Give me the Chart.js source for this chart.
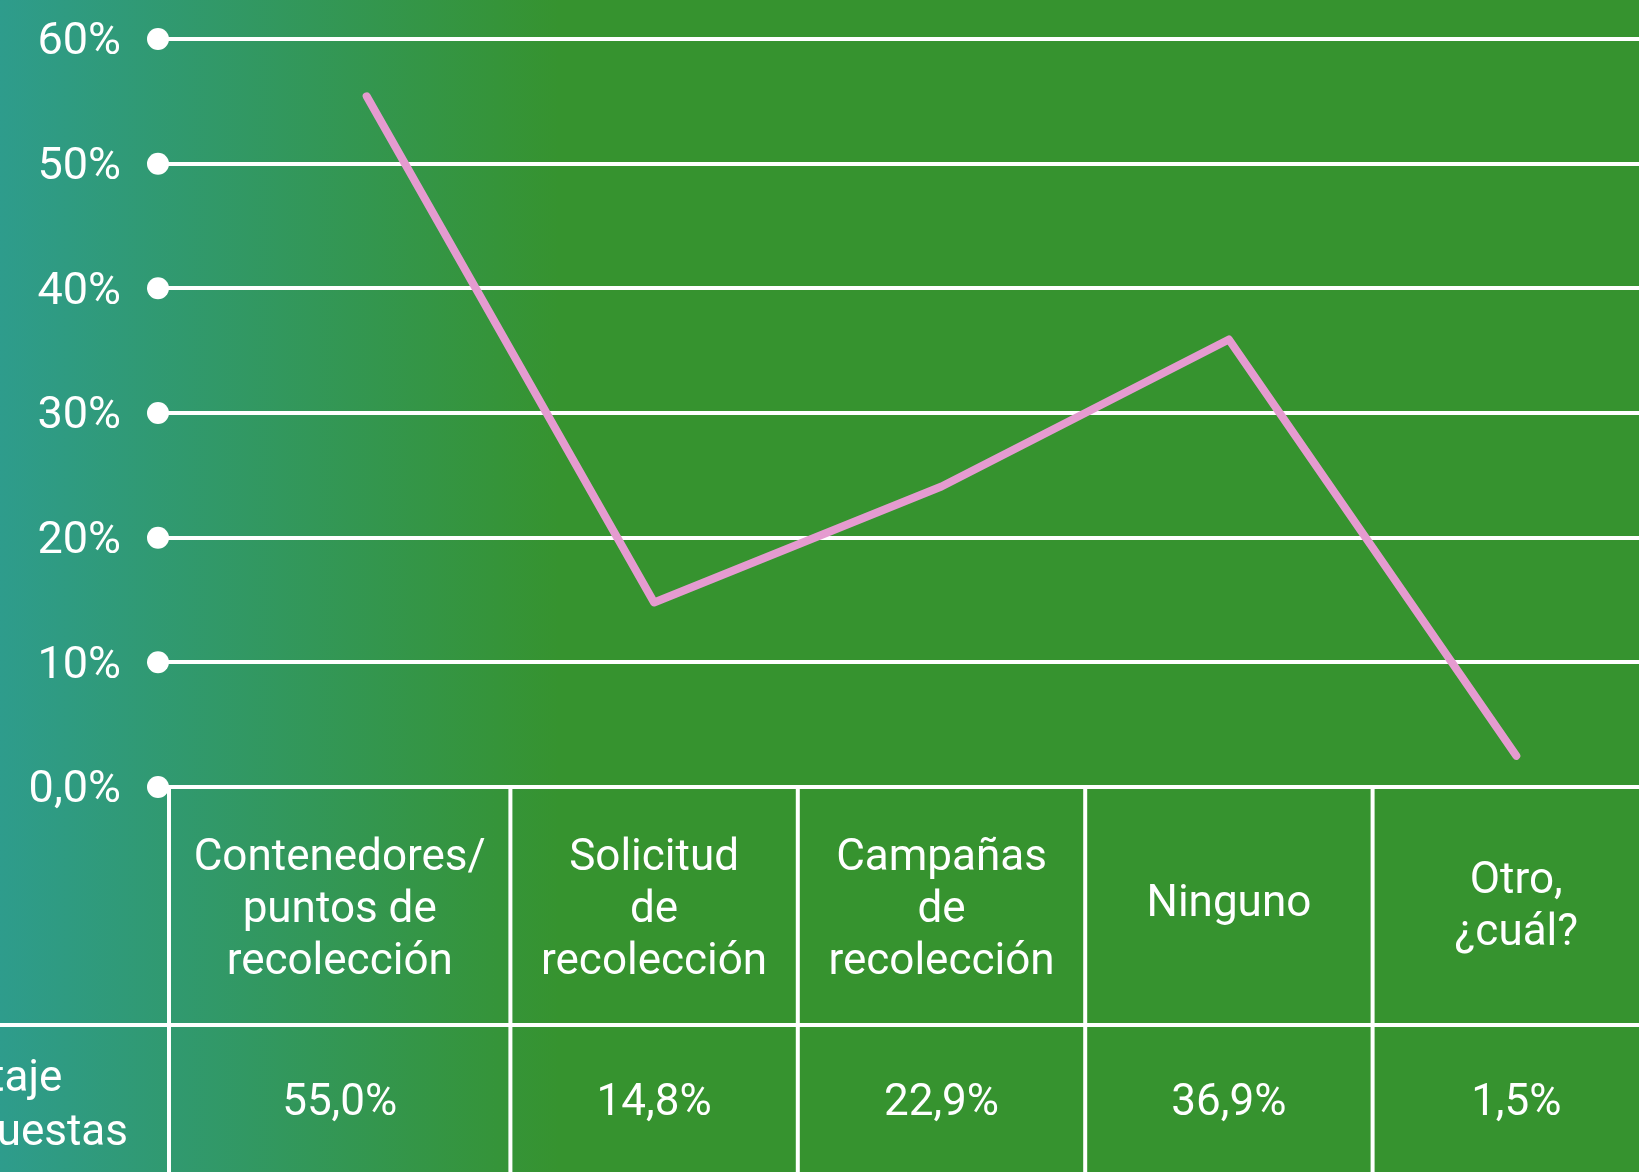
<!DOCTYPE html>
<html>
<head>
<meta charset="utf-8">
<script src="https://cdn.jsdelivr.net/npm/chart.js@4.4.1/dist/chart.umd.min.js"></script>
<style>
  html, body { margin: 0; padding: 0; overflow: hidden; }
  body {
    width: 1639px;
    height: 1172px;
    background: linear-gradient(to right, #2e9c8c 0px, #36932f 560px, #36932f 100%);
  }
  #wrap { width: 1660px; height: 1172px; position: relative; }
</style>
</head>
<body>
<div id="wrap"><canvas id="chart"></canvas></div>
<script>
// categories (header row of the table)
const categories = [
  ['Contenedores/', 'puntos de', 'recolección'],
  ['Solicitud', 'de', 'recolección'],
  ['Campañas', 'de', 'recolección'],
  ['Ninguno'],
  ['Otro,', '¿cuál?']
];
// line values (percent)
const lineValues = [55.4, 14.8, 24.1, 35.9, 2.5];
// values printed in the table row
const valueLabels = ['55,0%', '14,8%', '22,9%', '36,9%', '1,5%'];
const rowTitle = ['Porcentaje', 'de respuestas'];
const yMax = 60;
const yStep = 10;

const FONT = '44px Roboto';
const TICK_LEN = 65;

// draws the round dots at the axis and the data table under the plot
const tablePlugin = {
  id: 'tablePlugin',
  afterDraw(chart) {
    const { ctx, chartArea, scales: { x, y } } = chart;
    const dotX = chartArea.left - TICK_LEN;
    ctx.save();
    ctx.fillStyle = '#fff';
    y.ticks.forEach(t => {
      ctx.beginPath();
      ctx.arc(dotX, y.getPixelForValue(t.value), 11, 0, Math.PI * 2);
      ctx.fill();
    });

    const top = chartArea.bottom;
    const mid = top + 238;
    const bottom = chart.height;
    const centers = categories.map((c, i) => x.getPixelForValue(i));
    const bounds = [dotX + 11];
    for (let i = 1; i < centers.length; i++) bounds.push((centers[i - 1] + centers[i]) / 2);
    bounds.push(chartArea.right);

    ctx.strokeStyle = '#fff';
    ctx.lineWidth = 4;
    ctx.beginPath();
    bounds.slice(0, -1).forEach(bx => {
      ctx.moveTo(bx, top);
      ctx.lineTo(bx, bottom);
    });
    ctx.moveTo(0, mid);
    ctx.lineTo(chart.width, mid);
    ctx.stroke();

    ctx.font = FONT;
    ctx.textAlign = 'center';
    ctx.textBaseline = 'middle';
    const lh = 52;
    categories.forEach((lines, i) => {
      const cx = (bounds[i] + bounds[i + 1]) / 2;
      const cy = (top + mid) / 2 - 1 + (lines.length - 1) * 3;
      lines.forEach((ln, j) => {
        ctx.fillText(ln, cx, cy + (j - (lines.length - 1) / 2) * lh);
      });
      ctx.fillText(valueLabels[i], cx, mid + 79);
    });

    ctx.textAlign = 'left';
    const tx = 128 - ctx.measureText(rowTitle[1]).width;
    ctx.fillText(rowTitle[0], tx, mid + 55);
    ctx.fillText(rowTitle[1], tx, mid + 109);
    ctx.restore();
  }
};

function draw() {
  new Chart(document.getElementById('chart'), {
    type: 'line',
    data: {
      labels: categories.map(c => c.join(' ')),
      datasets: [{
        data: lineValues,
        borderColor: '#e59bd0',
        borderWidth: 8,
        borderCapStyle: 'round',
        borderJoinStyle: 'round',
        pointRadius: 0,
        tension: 0
      }]
    },
    options: {
      responsive: true,
      maintainAspectRatio: false,
      animation: false,
      devicePixelRatio: 1,
      layout: { padding: { top: 39, right: 0, bottom: 385, left: 0 } },
      plugins: { legend: { display: false }, tooltip: { enabled: false } },
      scales: {
        x: { display: false, offset: true },
        y: {
          min: 0,
          max: yMax,
          afterFit: scale => {
            scale.width = 223;
            scale.paddingTop = 0;
            scale.paddingBottom = 0;
          },
          border: { display: false },
          grid: { color: '#fff', lineWidth: 4, tickLength: TICK_LEN, drawTicks: true },
          ticks: {
            stepSize: yStep,
            padding: 37,
            labelOffset: 4,
            color: '#fff',
            font: { family: 'Roboto', size: 45 },
            callback: v => (v === 0 ? '0,0%' : v + '%')
          }
        }
      }
    },
    plugins: [tablePlugin]
  });
}

document.fonts.load(FONT).then(draw, draw);
</script>
</body>
</html>
